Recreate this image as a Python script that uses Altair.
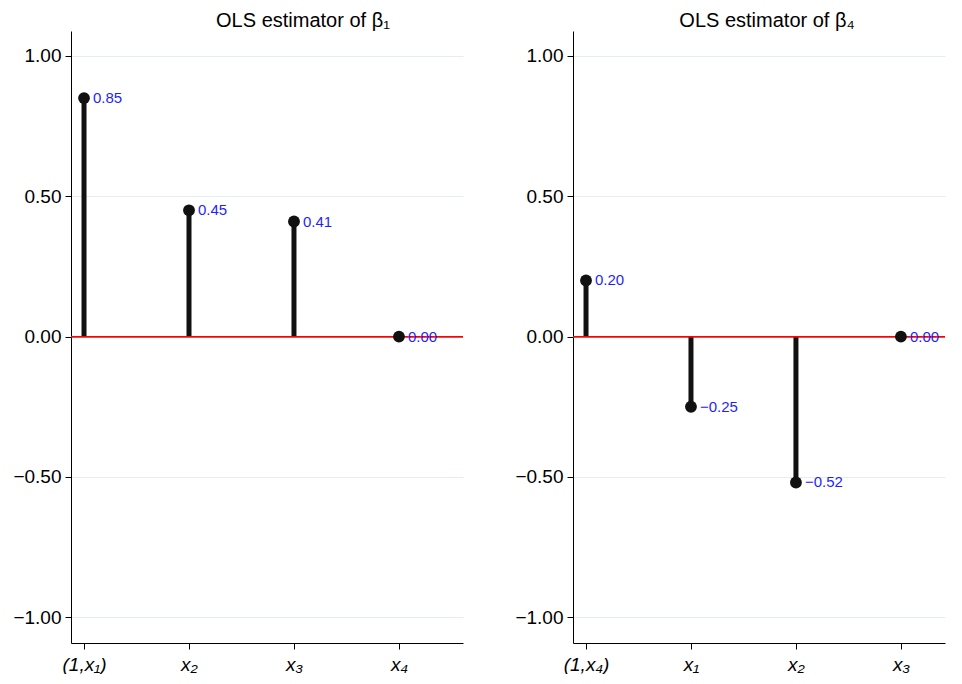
import altair as alt
import pandas as pd

left_labels = ["(1,x₁)", "x₂", "x₃", "x₄"]
left_values = [0.85, 0.45, 0.41, 0.00]
left_title = "OLS estimator of β₁"

right_labels = ["(1,x₄)", "x₁", "x₂", "x₃"]
right_values = [0.20, -0.25, -0.52, 0.00]
right_title = "OLS estimator of β₄"

y_ticks = [-1.0, -0.5, 0.0, 0.5, 1.0]
FONT = "Liberation Sans"


def panel(labels, values, title, width, xmax, dx):
    df = pd.DataFrame({"pos": list(range(len(labels))), "label": labels, "value": values})
    label_expr = "[" + ",".join("'" + l + "'" for l in labels) + "][datum.value]"
    x = alt.X(
        "pos:Q",
        scale=alt.Scale(domain=[-0.124, xmax], nice=False, zero=False),
        axis=alt.Axis(
            values=list(range(len(labels))),
            labelExpr=label_expr,
            grid=False,
            title=None,
            domainColor="black",
            tickColor="black",
            tickSize=6,
            labelFontSize=19,
            labelFontStyle="italic",
            labelColor="black",
            labelPadding=6,
            labelFont=FONT,
        ),
    )
    y = alt.Y(
        "value:Q",
        scale=alt.Scale(domain=[-1.092, 1.089], nice=False, zero=False),
        axis=alt.Axis(
            values=y_ticks,
            format=".2f",
            grid=True,
            gridColor="#e6edf1",
            gridWidth=1.2,
            title=None,
            domainColor="black",
            tickColor="black",
            tickSize=6,
            labelFontSize=19,
            labelColor="black",
            labelPadding=4,
            labelFont=FONT,
        ),
    )
    base = alt.Chart(df).encode(x=x, y=y)
    stems = base.mark_rule(strokeWidth=5, color="#111111").encode(y2=alt.datum(0))
    zero = alt.Chart(df).mark_rule(color="#ff0000", strokeWidth=1.2).encode(y=alt.datum(0))
    pts = base.mark_circle(size=140, color="#111111", opacity=1)
    txt = base.mark_text(align="left", baseline="middle", dx=9, fontSize=15, color="#1f1fff", font=FONT).encode(
        text=alt.Text("value:Q", format=".2f")
    )
    return alt.layer(stems, zero, pts, txt).properties(
        width=width,
        height=612,
        title=alt.TitleParams(title, fontSize=20, fontWeight="normal", font=FONT, color="black", dx=dx, offset=0),
    )


left = panel(left_labels, left_values, left_title, 392, 3.61, 36)
right = panel(right_labels, right_values, right_title, 372, 3.42, 8)

chart = (
    alt.hconcat(left, right, spacing=50)
    .properties(padding={"left": 4, "top": 3, "right": 0, "bottom": 0})
    .configure_view(stroke=None)
)

chart.save("out.html", embed_options={"renderer": "svg", "actions": False})
